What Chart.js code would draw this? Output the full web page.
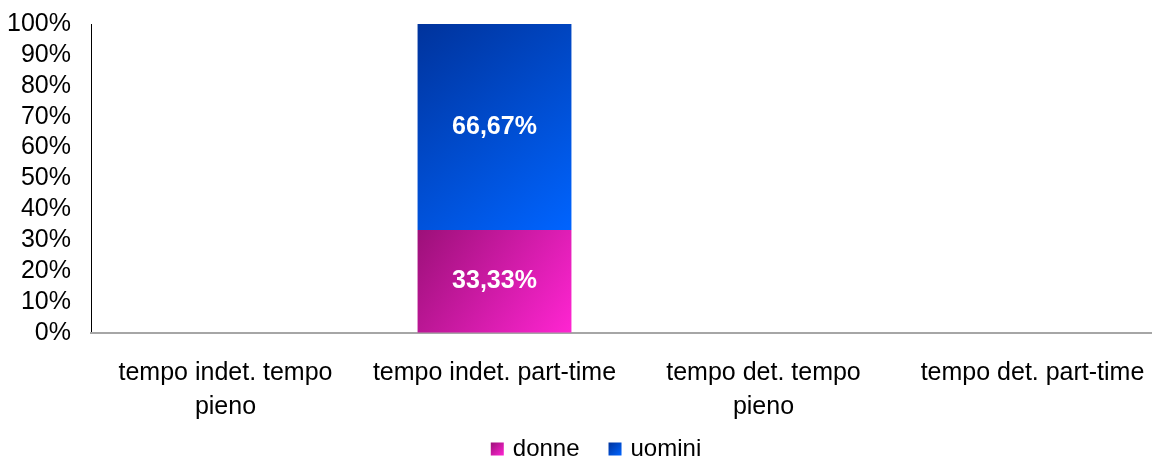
<!DOCTYPE html>
<html>
<head>
<meta charset="utf-8">
<script src="https://cdn.jsdelivr.net/npm/chart.js@4.4.1/dist/chart.umd.min.js"></script>
<style>
  html, body { margin: 0; padding: 0; background: #fff; overflow: hidden; }
  #wrap { position: relative; width: 1192px; height: 459px; }
</style>
</head>
<body>
<div id="wrap"><canvas id="myChart"></canvas></div>
<script>
var categories = [
    ['tempo indet. tempo', 'pieno'],
    'tempo indet. part-time',
    ['tempo det. tempo', 'pieno'],
    'tempo det. part-time'
];
var donne = [0, 33.33, 0, 0];
var uomini = [0, 66.67, 0, 0];
var yTicks = [0, 10, 20, 30, 40, 50, 60, 70, 80, 90, 100];

var stacks = [donne, uomini];
var gradColors = [
    ['#9c1079', '#ff25d2'],
    ['#00339c', '#0064ff']
];
var FONT = '"Liberation Sans", Arial, sans-serif';

function barGradient(context) {
    var chart = context.chart;
    var area = chart.chartArea;
    var ds = context.datasetIndex;
    if (!area || !chart.scales.x || !chart.scales.y) {
        return gradColors[ds][1];
    }
    var i = context.dataIndex;
    var xs = chart.scales.x, ys = chart.scales.y;
    var cx = xs.getPixelForValue(i);
    var half = xs.width / categories.length * 0.572 / 2;
    var base = 0;
    for (var k = 0; k < ds; k++) base += stacks[k][i];
    var top = base + stacks[ds][i];
    var y0 = ys.getPixelForValue(top), y1 = ys.getPixelForValue(base);
    if (!isFinite(y0) || !isFinite(y1) || y0 === y1) return gradColors[ds][1];
    var g = chart.ctx.createLinearGradient(cx - half, y0, cx + half, y1);
    g.addColorStop(0, gradColors[ds][0]);
    g.addColorStop(1, gradColors[ds][1]);
    return g;
}

// white percentage labels inside the segments
var valueLabels = {
    id: 'valueLabels',
    afterDatasetsDraw: function (chart) {
        var ctx = chart.ctx;
        ctx.save();
        ctx.fillStyle = '#FFFFFF';
        ctx.font = 'bold 25px ' + FONT;
        ctx.textAlign = 'center';
        ctx.textBaseline = 'middle';
        chart.data.datasets.forEach(function (ds, di) {
            var meta = chart.getDatasetMeta(di);
            meta.data.forEach(function (bar, i) {
                var v = ds.data[i];
                if (!v) return;
                var y = (bar.y + bar.base) / 2;
                ctx.fillText(v.toFixed(2).replace('.', ',') + '%', bar.x, y);
            });
        });
        ctx.restore();
    }
};

// legend at the bottom, square markers with the bar gradients
var bottomLegend = {
    id: 'bottomLegend',
    afterDraw: function (chart) {
        var ctx = chart.ctx;
        var box = 13, gapText = 9, gapItem = 29;
        var cy = 449;
        ctx.save();
        ctx.font = '24px ' + FONT;
        ctx.textBaseline = 'middle';
        ctx.textAlign = 'left';
        var items = chart.data.datasets.map(function (ds) {
            return { text: ds.label, w: ctx.measureText(ds.label).width };
        });
        var total = 0;
        items.forEach(function (it, i) {
            total += box + gapText + it.w + (i < items.length - 1 ? gapItem : 0);
        });
        var x = chart.width / 2 - total / 2;
        items.forEach(function (it, i) {
            var g = ctx.createLinearGradient(x, cy - box / 2, x + box, cy + box / 2);
            g.addColorStop(0, gradColors[i][0]);
            g.addColorStop(1, gradColors[i][1]);
            ctx.fillStyle = g;
            ctx.fillRect(x, cy - box / 2, box, box);
            ctx.fillStyle = '#000000';
            ctx.fillText(it.text, x + box + gapText, cy);
            x += box + gapText + it.w + gapItem;
        });
        ctx.restore();
    }
};

var ctx = document.getElementById('myChart').getContext('2d');

var myChart = new Chart(ctx, {
    type: 'bar',
    data: {
        labels: categories,
        datasets: [
            {
                label: 'donne',
                data: donne,
                backgroundColor: barGradient,
                borderWidth: 0,
                categoryPercentage: 1,
                barPercentage: 0.572
            },
            {
                label: 'uomini',
                data: uomini,
                backgroundColor: barGradient,
                borderWidth: 0,
                categoryPercentage: 1,
                barPercentage: 0.572
            }
        ]
    },
    plugins: [valueLabels, bottomLegend],
    options: {
        responsive: true,
        maintainAspectRatio: false,
        animation: false,
        layout: {
            padding: {
                left: 0,
                right: 25,
                top: 24,
                bottom: 31
            }
        },
        plugins: {
            legend: { display: false },
            tooltip: { enabled: false }
        },
        scales: {
            y: {
                stacked: true,
                min: 0,
                max: 100,
                afterBuildTicks: function (scale) {
                    scale.ticks = yTicks.map(function (v) { return { value: v }; });
                },
                afterFit: function (scale) {
                    scale.width = 91;
                    scale.paddingTop = 0;
                    scale.paddingBottom = 0;
                },
                ticks: {
                    padding: 20,
                    autoSkip: false,
                    font: {
                        size: 25,
                        family: FONT
                    },
                    color: '#000000',
                    callback: function (v) { return v + '%'; }
                },
                grid: {
                    drawOnChartArea: false,
                    drawTicks: false
                },
                border: {
                    display: true,
                    color: '#000000',
                    width: 1
                }
            },
            x: {
                stacked: true,
                afterFit: function (scale) {
                    scale.height = 95;
                    scale.paddingLeft = 0;
                    scale.paddingRight = 0;
                },
                ticks: {
                    padding: 23,
                    font: {
                        size: 25,
                        family: FONT,
                        lineHeight: 1.36
                    },
                    maxRotation: 0,
                    minRotation: 0,
                    autoSkip: false,
                    color: '#000000'
                },
                grid: {
                    drawOnChartArea: false,
                    drawTicks: false
                },
                border: {
                    display: true,
                    color: '#a6a6a6',
                    width: 2
                }
            }
        }
    }
});
</script>
</body>
</html>
